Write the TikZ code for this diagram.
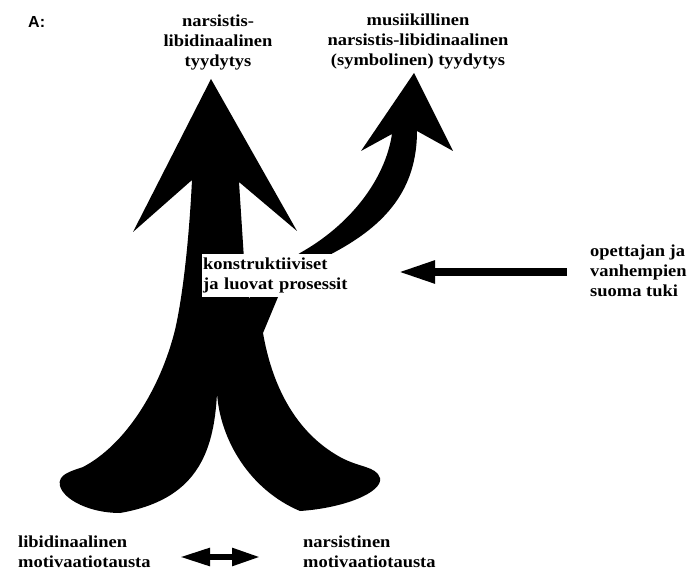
\documentclass[tikz,border=0pt]{standalone}
\usepackage{fontspec}
\setmainfont{Liberation Serif}[FakeStretch=1.1]
\newfontfamily\panelfont{Liberation Sans}
\usetikzlibrary{arrows.meta}

\begin{document}
\begin{tikzpicture}[x=1pt, y=-1pt,
  lbl/.style={font=\fontsize{16.8}{20}\selectfont\bfseries, inner sep=0pt},
  blob/.style={fill=black, draw=none},
  procbox/.style={lbl, fill=white, align=left, anchor=north west,
    inner xsep=1pt, inner ysep=0pt, text width=142pt,
    minimum height=43pt},
  thickarrow/.style={line width=8pt, -{Triangle[length=37pt,width=21pt]}},
  swaparrow/.style={line width=5.5pt,
    {Triangle[length=30pt,width=17pt]}-{Triangle[length=28pt,width=17pt]}}
]
\useasboundingbox (0,0) rectangle (689,572);

% trunk: straight arrow rising from two curved feet
\fill[blob] (211,79) -- (297,231) -- (239,182) -- (246,290) -- (263,333)
  .. controls (272,385) and (295,432) .. (340,457)
  .. controls (360,468) and (376,466) .. (380,478)
  .. controls (383,492) and (345,508) .. (300,511)
  .. controls (250,490) and (220,440) .. (217,393)
  .. controls (214,455) and (195,500) .. (120,513)
  .. controls (90,513) and (64,500) .. (60,486)
  .. controls (57,474) and (72,471) .. (83,467)
  .. controls (125,445) and (160,390) .. (175,330)
  .. controls (183,295) and (189,240) .. (192,180)
  -- (133,232) -- cycle;

% branch curving up to the right
\fill[blob] (414,73) -- (453,151) -- (417,131)
  .. controls (417,190) and (385,225) .. (335,252)
  .. controls (305,268) and (285,285) .. (278,297)
  -- (263,333) -- (240,320) -- (255,285) -- (300,253)
  .. controls (350,225) and (385,180) .. (392,134)
  -- (361,151) -- cycle;

% centre label over the trunk
\node[procbox] (proc) at (202,254)
  {\mbox{konstruktiiviset}\\\mbox{ja luovat prosessit}};

% titles (base anchor = baseline of the last line)
\node[font=\panelfont\bfseries\fontsize{16}{18}\selectfont, inner sep=0pt,
  anchor=base west] (panel) at (28,28) {A:};
\node[lbl, align=center, anchor=base] (goalL) at (218,67)
  {narsistis-\\libidinaalinen\\tyydytys};
\node[lbl, align=center, anchor=base] (goalR) at (418,66)
  {musiikillinen\\narsistis-libidinaalinen\\(symbolinen) tyydytys};
\node[lbl, align=left, anchor=base west] (support) at (590,297)
  {opettajan ja\\vanhempien\\suoma tuki};
\node[lbl, align=left, anchor=base west] (libido) at (18,567)
  {libidinaalinen\\motivaatiotausta};
\node[lbl, align=left, anchor=base west] (narc) at (303,567)
  {narsistinen\\motivaatiotausta};

% arrows
\coordinate (hTail) at (567,272);
\coordinate (hTip) at (398,272);
\draw[thickarrow] (hTail) -- (hTip);

\coordinate (swapL) at (180,557);
\coordinate (swapR) at (260,557);
\draw[swaparrow] (swapL) -- (swapR);
\end{tikzpicture}
\end{document}
